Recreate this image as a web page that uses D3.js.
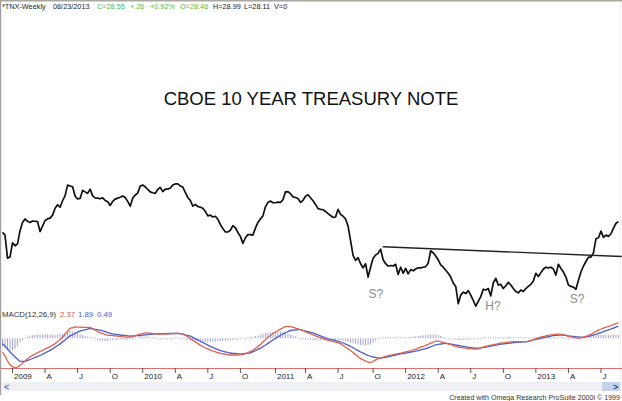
<!DOCTYPE html>
<html><head><meta charset="utf-8">
<script src="https://cdn.jsdelivr.net/npm/d3@7"></script>
<style>
body{margin:0;background:#fff}
svg{display:block}
text{font-family:"Liberation Sans",Arial,sans-serif}
</style>
</head><body>
<svg id="c" width="622" height="401"></svg>
<script>
// ---------- DATA (weekly closes of $TNX) ----------
const startDate = "2008-12-05";           // first weekly bar (Friday)
const price = [
26.3,25.7,21.0,21.2,24.0,23.4,23.8,26.7,28.7,29.6,
29.0,28.7,29.05,29.0,28.9,26.5,27.8,29.2,29.6,29.8,
30.6,32.5,33.5,32.8,34.7,36.3,39.8,39.5,39.2,36.1,
35.3,35.4,38.0,37.5,37.0,38.4,36.2,35.6,35.5,35.3,
35.6,34.8,34.4,33.3,34.5,35.2,35.5,35.8,36.2,35.7,
34.5,33.1,35.5,36.5,37.1,39.5,39.8,39.2,38.3,37.5,
37.2,37.0,38.3,39.0,37.6,38.4,38.4,38.8,39.8,40.2,
40.2,39.5,39.1,37.3,35.7,34.8,33.1,33.6,33.0,32.8,
32.5,31.6,30.4,30.6,30.1,30.3,29.5,28.2,27.2,26.4,
26.4,26.8,27.9,27.4,26.3,25.4,23.9,25.1,25.8,25.8,
25.7,27.3,28.7,29.6,30.4,32.9,34.2,34.6,34.1,34.1,
34.3,34.2,35.0,37.5,37.6,36.9,35.9,35.7,35.4,34.2,
34.8,36.1,36.6,35.6,34.7,33.6,32.4,32.2,32.1,31.6,
31.0,30.5,30.0,30.1,32.2,30.8,30.3,29.6,27.8,24.5,
21.5,20.6,21.1,20.0,19.3,20.0,17.8,19.4,21.0,21.6,
21.9,22.7,20.7,20.0,19.6,19.7,19.6,19.9,18.2,19.4,
18.4,19.2,18.3,19.0,18.8,19.1,19.3,19.3,19.4,19.5,
20.1,22.4,22.0,21.4,20.7,19.8,19.4,18.9,18.4,17.8,
16.9,16.4,14.1,15.2,15.6,15.4,15.8,15.2,14.5,13.8,
14.4,15.0,16.0,15.9,16.1,15.1,16.9,17.6,16.6,16.7,
16.1,16.5,17.0,16.6,16.1,15.7,15.5,15.9,15.7,16.1,
16.4,16.7,17.2,18.4,17.9,18.5,19.1,19.4,19.3,19.4,
19.1,18.1,19.9,19.2,18.6,17.8,16.6,16.4,16.3,16.0,
17.3,18.6,19.6,20.4,21.2,21.2,22.0,24.9,25.1,26.6,
25.2,25.7,25.4,26.0,27.3,28.5,28.9
];
// MACD(12,26,9) line (red)
const macd = [
-2.14,-2.72,-3.49,-4.06,-4.35,-4.52,-4.42,-4.14,-3.82,-3.48,
-3.15,-2.83,-2.63,-2.43,-2.23,-2.03,-1.85,-1.66,-1.48,-1.28,
-1.09,-0.82,-0.51,-0.20,0.17,0.63,1.09,1.54,1.62,1.74,
1.72,1.71,1.69,1.69,1.69,1.68,1.46,1.26,1.05,0.85,
0.75,0.58,0.49,0.45,0.42,0.37,0.34,0.28,0.23,0.18,
0.17,0.20,0.23,0.37,0.52,0.66,0.74,0.82,0.85,0.78,
0.74,0.69,0.66,0.66,0.66,0.66,0.68,0.71,0.72,0.75,
0.75,0.71,0.66,0.46,0.22,-0.03,-0.29,-0.55,-0.80,-1.06,
-1.25,-1.45,-1.63,-1.82,-1.95,-2.08,-2.20,-2.32,-2.38,-2.45,
-2.51,-2.57,-2.57,-2.57,-2.57,-2.55,-2.46,-2.35,-2.22,-2.02,
-1.83,-1.55,-1.28,-0.97,-0.58,-0.20,0.14,0.43,0.74,0.97,
1.20,1.42,1.62,1.80,1.85,1.78,1.71,1.58,1.46,1.32,
1.17,1.00,0.85,0.69,0.52,0.38,0.23,0.09,-0.06,-0.20,
-0.31,-0.40,-0.49,-0.60,-0.69,-0.83,-1.11,-1.37,-1.63,-1.88,
-2.20,-2.51,-2.83,-3.12,-3.32,-3.51,-3.66,-3.71,-3.54,-3.32,
-3.15,-3.03,-2.91,-2.77,-2.68,-2.60,-2.52,-2.45,-2.37,-2.28,
-2.18,-2.09,-2.02,-1.92,-1.80,-1.66,-1.52,-1.37,-1.23,-1.09,
-0.94,-0.75,-0.60,-0.43,-0.43,-0.54,-0.63,-0.74,-0.85,-0.97,
-1.11,-1.25,-1.34,-1.40,-1.46,-1.52,-1.57,-1.60,-1.65,-1.68,
-1.62,-1.49,-1.35,-1.23,-1.14,-1.06,-0.98,-0.89,-0.82,-0.75,
-0.71,-0.66,-0.60,-0.55,-0.52,-0.52,-0.52,-0.52,-0.52,-0.52,
-0.46,-0.34,-0.22,-0.05,0.08,0.18,0.28,0.37,0.46,0.52,
0.57,0.60,0.65,0.62,0.52,0.42,0.31,0.22,0.15,0.09,
0.03,0.05,0.18,0.31,0.43,0.60,0.82,1.05,1.26,1.43,
1.57,1.69,1.82,1.95,2.11,2.26,2.37
];
// MACD signal line (blue)
const signal = [
-0.83,-1.18,-1.65,-2.11,-2.49,-2.88,-3.22,-3.54,-3.54,-3.54,
-3.40,-3.26,-3.11,-2.95,-2.80,-2.65,-2.45,-2.26,-2.06,-1.86,
-1.62,-1.37,-1.12,-0.86,-0.55,-0.25,0.06,0.37,0.55,0.75,
0.94,1.12,1.22,1.32,1.42,1.51,1.45,1.38,1.32,1.26,
1.14,1.02,0.89,0.77,0.69,0.63,0.57,0.51,0.46,0.43,
0.38,0.35,0.37,0.38,0.42,0.43,0.48,0.52,0.57,0.62,
0.65,0.66,0.69,0.71,0.72,0.72,0.74,0.74,0.74,0.74,
0.74,0.72,0.63,0.54,0.43,0.32,0.14,-0.06,-0.25,-0.45,
-0.65,-0.85,-1.05,-1.25,-1.42,-1.58,-1.74,-1.89,-1.98,-2.09,
-2.18,-2.26,-2.31,-2.34,-2.38,-2.42,-2.37,-2.34,-2.29,-2.23,
-2.06,-1.89,-1.71,-1.52,-1.28,-1.03,-0.78,-0.52,-0.25,-0.02,
0.23,0.46,0.66,0.85,1.05,1.20,1.25,1.28,1.32,1.34,
1.23,1.12,1.03,0.92,0.83,0.68,0.52,0.37,0.22,0.06,
-0.06,-0.15,-0.25,-0.35,-0.45,-0.57,-0.72,-0.89,-1.06,-1.23,
-1.46,-1.68,-1.89,-2.11,-2.28,-2.46,-2.63,-2.78,-2.88,-2.94,
-3.02,-3.06,-2.98,-2.92,-2.85,-2.77,-2.68,-2.58,-2.49,-2.40,
-2.34,-2.26,-2.20,-2.12,-2.06,-1.97,-1.88,-1.78,-1.68,-1.58,
-1.45,-1.31,-1.15,-1.00,-0.92,-0.88,-0.83,-0.78,-0.82,-0.88,
-0.94,-1.00,-1.08,-1.15,-1.23,-1.31,-1.37,-1.42,-1.48,-1.52,
-1.51,-1.46,-1.40,-1.35,-1.29,-1.22,-1.14,-1.05,-0.97,-0.91,
-0.86,-0.82,-0.77,-0.72,-0.68,-0.65,-0.62,-0.58,-0.55,-0.54,
-0.46,-0.35,-0.26,-0.17,-0.09,0.00,0.09,0.18,0.26,0.35,
0.43,0.45,0.48,0.49,0.51,0.45,0.38,0.32,0.28,0.23,
0.20,0.18,0.15,0.23,0.31,0.38,0.48,0.62,0.75,0.89,
1.03,1.17,1.29,1.43,1.57,1.73,1.89
];
const tickMonths = ["2009-01","2009-04","2009-07","2009-10","2010-01","2010-04","2010-07","2010-10",
  "2011-01","2011-04","2011-07","2011-10","2012-01","2012-04","2012-07","2012-10","2013-01","2013-04","2013-07"];
const tickLabels = ["2009","A","J","O","2010","A","J","O","2011","A","J","O","2012","A","J","O","2013","A","J"];
const neckline = [{date:"2011-11-03", value:23.2},{date:"2013-09-01", value:21.3}];
const annotations = [
  {label:"S?", date:"2011-10-15", value:14.85},
  {label:"H?", date:"2012-09-06", value:13.35},
  {label:"S?", date:"2013-04-29", value:14.2}
];
const headerParts = [
  {t:"*TNX-Weekly", c:"#222"}, {t:"08/23/2013", c:"#222"}, {t:"C=28.55", c:"#4cbb4c"},
  {t:"+.26", c:"#4cbb4c"}, {t:"+0.92%", c:"#4cbb4c"}, {t:"O=28.46", c:"#4cbb4c"},
  {t:"H=28.99", c:"#222"}, {t:"L=28.11", c:"#222"}, {t:"V=0", c:"#222"}
];
const headerX = [2, 53, 97, 130, 150, 180, 213, 244, 274];
const macdLabels = [{t:"MACD(12,26,9)", c:"#333"}, {t:"2.37", c:"#e0604c"}, {t:"1.89", c:"#4d5fc8"}, {t:"0.49", c:"#4d5fc8"}];
const macdLabelX = [2, 60, 78, 97];

// ---------- CHART ----------
const svg = d3.select("#c");
const parse = d3.utcParse("%Y-%m-%d");
const start = parse(startDate);
const dates = price.map((d, i) => d3.utcDay.offset(start, 7 * i));
const last = dates[dates.length - 1];

const x = d3.scaleUtc().domain([start, last]).range([2.5, 618.5]);
const y = d3.scaleLog().domain([14, 40]).range([304.5, 184.5]);
const ym = d3.scaleLinear().domain([-4, 3]).range([364.3, 318.8]);

svg.append("rect").attr("width", 622).attr("height", 401).attr("fill", "#fff");

// frame
svg.append("line").attr("x1", 0).attr("x2", 622).attr("y1", 0.8).attr("y2", 0.8)
  .attr("stroke", "#a8a8a0").attr("stroke-width", 1.6);
svg.append("line").attr("x1", 0.6).attr("x2", 0.6).attr("y1", 0).attr("y2", 395)
  .attr("stroke", "#a0a0a0").attr("stroke-width", 1.2);
svg.append("line").attr("x1", 620.5).attr("x2", 620.5).attr("y1", 2).attr("y2", 380)
  .attr("stroke", "#eeeeee").attr("stroke-width", 1);

// header
const hdr = svg.append("text").attr("y", 9).attr("font-size", 7.3);
headerParts.forEach((p, i) => hdr.append("tspan").attr("x", headerX[i]).attr("fill", p.c).text(p.t));

// title
svg.append("text").attr("x", 311).attr("y", 105).attr("text-anchor", "middle")
  .attr("font-size", 18.5).attr("fill", "#111").text("CBOE 10 YEAR TREASURY NOTE");

// price line
svg.append("path").datum(price)
  .attr("fill", "none").attr("stroke", "#111").attr("stroke-width", 1.7)
  .attr("stroke-linejoin", "round")
  .attr("d", d3.line().x((d, i) => x(dates[i])).y(d => y(d)));

// neckline
svg.append("path").datum(neckline)
  .attr("fill", "none").attr("stroke", "#222").attr("stroke-width", 1.4)
  .attr("d", d3.line().x(d => x(parse(d.date))).y(d => y(d.value)));

// pattern labels
svg.selectAll("text.ann").data(annotations).join("text").attr("class", "ann")
  .attr("x", d => x(parse(d.date))).attr("y", d => y(d.value))
  .attr("text-anchor", "middle").attr("font-size", 12).attr("fill", "#8a8a8a")
  .text(d => d.label);

// MACD label
const ml = svg.append("text").attr("y", 317).attr("font-size", 7.8);
macdLabels.forEach((p, i) => ml.append("tspan").attr("x", macdLabelX[i]).attr("fill", p.c).text(p.t));

// histogram
const hist = macd.map((m, i) => ({date: dates[i], v: m - signal[i]}));
const z = ym(0);
svg.append("g").selectAll("line").data(hist).join("line")
  .attr("x1", d => x(d.date)).attr("x2", d => x(d.date))
  .attr("y1", z)
  .attr("y2", d => { const h = ym(d.v) - z; return z + (Math.abs(h) < 1 ? (h < 0 ? -1 : 1) : h); })
  .attr("stroke", "#9797d6").attr("stroke-width", 0.9);

// MACD & signal lines
const lm = d3.line().x((d, i) => x(dates[i])).y(d => ym(d)).curve(d3.curveMonotoneX);
svg.append("path").datum(signal).attr("fill", "none").attr("stroke", "#4d5fc8")
  .attr("stroke-width", 1.3).attr("d", lm);
svg.append("path").datum(macd).attr("fill", "none").attr("stroke", "#e0604c")
  .attr("stroke-width", 1.3).attr("d", lm);

// bottom red line
svg.append("line").attr("x1", 1).attr("x2", 622).attr("y1", 368.5).attr("y2", 368.5)
  .attr("stroke", "#e07070").attr("stroke-width", 1.2);

// time axis ticks (first weekly bar of each quarter month)
const tickDates = tickMonths.map(m => dates.find(d => d >= parse(m + "-01")));
const tg = svg.append("g").selectAll("g").data(tickDates).join("g")
  .attr("transform", d => `translate(${x(d)},0)`);
tg.append("line").attr("y1", 368).attr("y2", 373).attr("stroke", "#555").attr("stroke-width", 1);
tg.append("text").attr("x", 1.5).attr("y", 379).attr("font-size", 8).attr("fill", "#222")
  .text((d, i) => tickLabels[i]);

// scrollbar
svg.append("rect").attr("x", 1).attr("y", 382).attr("width", 621).attr("height", 9).attr("fill", "#eef0f3");
svg.append("text").attr("x", 4).attr("y", 389.5).attr("font-size", 9).attr("font-weight", "bold")
  .attr("fill", "#5577aa").text("<");
svg.append("rect").attr("x", 602).attr("y", 382).attr("width", 18).attr("height", 9).attr("fill", "#c3d3ee");
svg.append("text").attr("x", 613).attr("y", 389.5).attr("font-size", 9).attr("font-weight", "bold")
  .attr("fill", "#2a4d8a").text(">");

// footer
svg.append("text").attr("x", 620).attr("y", 399.5).attr("text-anchor", "end")
  .attr("font-size", 7.1).attr("fill", "#333")
  .text("Created with Omega Research ProSuite 2000i \u00A9 1999");
</script>
</body></html>
